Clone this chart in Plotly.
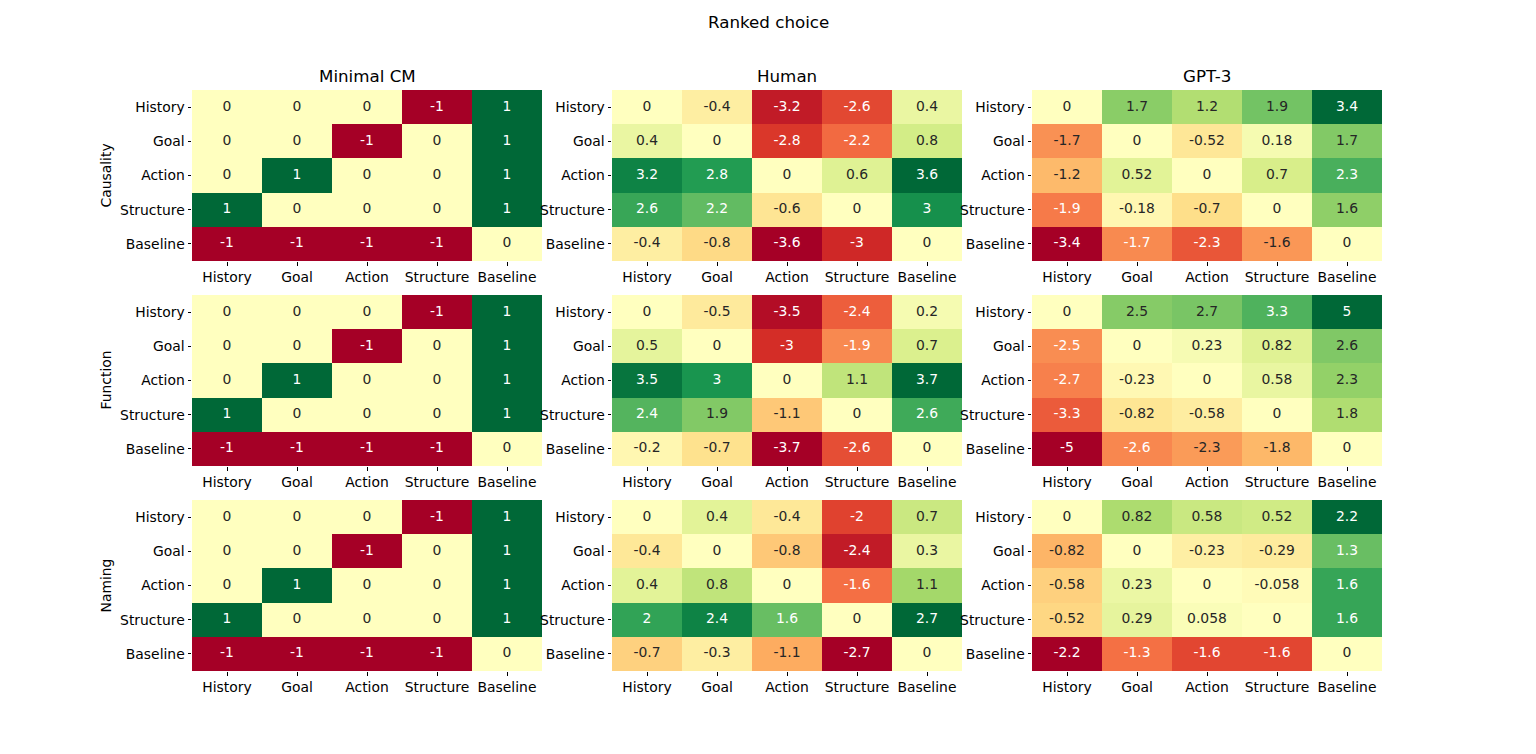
import numpy as np
import plotly.graph_objects as go

# ---------------- data ----------------
labels = ["History", "Goal", "Action", "Structure", "Baseline"]
tasks = ["Causality", "Function", "Naming"]
models = ["Minimal CM", "Human", "GPT-3"]

minimal_causality = [[0, 0, 0, -1, 1], [0, 0, -1, 0, 1], [0, 1, 0, 0, 1], [1, 0, 0, 0, 1], [-1, -1, -1, -1, 0]]
minimal_function = [[0, 0, 0, -1, 1], [0, 0, -1, 0, 1], [0, 1, 0, 0, 1], [1, 0, 0, 0, 1], [-1, -1, -1, -1, 0]]
minimal_naming = [[0, 0, 0, -1, 1], [0, 0, -1, 0, 1], [0, 1, 0, 0, 1], [1, 0, 0, 0, 1], [-1, -1, -1, -1, 0]]

human_causality = [[0, -0.4, -3.2, -2.6, 0.4], [0.4, 0, -2.8, -2.2, 0.8], [3.2, 2.8, 0, 0.6, 3.6],
                   [2.6, 2.2, -0.6, 0, 3], [-0.4, -0.8, -3.6, -3, 0]]
human_function = [[0, -0.5, -3.5, -2.4, 0.2], [0.5, 0, -3, -1.9, 0.7], [3.5, 3, 0, 1.1, 3.7],
                  [2.4, 1.9, -1.1, 0, 2.6], [-0.2, -0.7, -3.7, -2.6, 0]]
human_naming = [[0, 0.4, -0.4, -2, 0.7], [-0.4, 0, -0.8, -2.4, 0.3], [0.4, 0.8, 0, -1.6, 1.1],
                [2, 2.4, 1.6, 0, 2.7], [-0.7, -0.3, -1.1, -2.7, 0]]

gpt_causality = [[0, 1.66, 1.2, 1.9, 3.4], [-1.66, 0, -0.52, 0.18, 1.74], [-1.2, 0.52, 0, 0.7, 2.3],
                 [-1.9, -0.18, -0.7, 0, 1.6], [-3.4, -1.74, -2.3, -1.6, 0]]
gpt_function = [[0, 2.5, 2.7, 3.3, 5], [-2.5, 0, 0.23, 0.82, 2.6], [-2.7, -0.23, 0, 0.58, 2.3],
                [-3.3, -0.82, -0.58, 0, 1.8], [-5, -2.6, -2.3, -1.8, 0]]
gpt_naming = [[0, 0.82, 0.58, 0.52, 2.2], [-0.82, 0, -0.23, -0.29, 1.3], [-0.58, 0.23, 0, -0.058, 1.6],
              [-0.52, 0.29, 0.058, 0, 1.6], [-2.2, -1.3, -1.6, -1.6, 0]]

grid = [[minimal_causality, human_causality, gpt_causality],
        [minimal_function, human_function, gpt_function],
        [minimal_naming, human_naming, gpt_naming]]

# ---------------- colormap (RdYlGn) ----------------
rdylgn = [(165, 0, 38), (215, 48, 39), (244, 109, 67), (253, 174, 97), (254, 224, 139), (255, 255, 191),
          (217, 239, 139), (166, 217, 106), (102, 189, 99), (26, 152, 80), (0, 104, 55)]
anchors = np.linspace(0, 1, len(rdylgn))
cols = np.array(rdylgn, dtype=float) / 255.0
lut_x = np.arange(256) / 255.0
lut = np.stack([np.interp(lut_x, anchors, cols[:, k]) for k in range(3)], axis=1)
colorscale = [[float(a), "rgb(%d,%d,%d)" % c] for a, c in zip(anchors, rdylgn)]


def text_color(v, vmax):
    t = (v + vmax) / (2 * vmax)
    idx = int(np.clip(np.floor(t * 256), 0, 255))
    rgb = lut[idx]
    lin = np.where(rgb <= 0.03928, rgb / 12.92, ((rgb + 0.055) / 1.055) ** 2.4)
    lum = lin.dot([0.2126, 0.7152, 0.0722])
    return "#262626" if lum > 0.408 else "#ffffff"


# ---------------- layout geometry ----------------
W, H = 1536, 754
OFF = 8  # page body margin
x_px = [(192, 542), (612, 962), (1032, 1382)]
y_px = [(90, 261), (295, 466), (500, 671)]
FONT = "DejaVu Sans"
fs = 13.9

fig = go.Figure()
layout = dict(width=W, height=H, margin=dict(l=0, r=0, t=0, b=0), plot_bgcolor="white",
              paper_bgcolor="white", showlegend=False, font=dict(family=FONT, size=fs, color="black"))
annotations = []

k = 0
for r in range(3):
    for c in range(3):
        k += 1
        z = np.array(grid[r][c], dtype=float)
        vmax = float(np.abs(z).max())
        xa = "x" if k == 1 else "x%d" % k
        ya = "y" if k == 1 else "y%d" % k
        fig.add_trace(go.Heatmap(z=z, x=labels, y=labels, colorscale=colorscale, zmin=-vmax, zmax=vmax,
                                 showscale=False, xaxis=xa, yaxis=ya, hoverinfo="skip"))
        tx, ty, tt, tc = [], [], [], []
        for i in range(5):
            for j in range(5):
                tx.append(labels[j])
                ty.append(labels[i])
                tt.append(format(z[i, j], ".2g"))
                tc.append(text_color(z[i, j], vmax))
        fig.add_trace(go.Scatter(x=tx, y=ty, text=tt, mode="text", xaxis=xa, yaxis=ya,
                                 textfont=dict(family=FONT, size=fs, color=tc), hoverinfo="skip"))
        x0, x1 = x_px[c][0] - OFF, x_px[c][1] - OFF
        y0, y1 = y_px[r][0] - OFF, y_px[r][1] - OFF
        axkey = "xaxis" if k == 1 else "xaxis%d" % k
        aykey = "yaxis" if k == 1 else "yaxis%d" % k
        layout[axkey] = dict(domain=[x0 / W, x1 / W], anchor=ya, type="category", categoryorder="array",
                             categoryarray=labels, range=[-0.5, 4.5], showgrid=False, zeroline=False,
                             showline=False, ticks="outside", ticklen=3.5, tickwidth=0.8, tickcolor="black",
                             tickfont=dict(family=FONT, size=fs, color="black"), fixedrange=True)
        layout[aykey] = dict(domain=[1 - y1 / H, 1 - y0 / H], anchor=xa, type="category",
                             categoryorder="array", categoryarray=labels, range=[4.5, -0.5],
                             showgrid=False, zeroline=False, showline=False, ticks="outside", ticklen=3.5,
                             tickwidth=0.8, tickcolor="black",
                             tickfont=dict(family=FONT, size=fs, color="black"), fixedrange=True)
        if r == 0:
            annotations.append(dict(text=models[c], x=(x0 + x1) / 2 / W, y=1 - y0 / H, xref="paper",
                                    yref="paper", xanchor="center", yanchor="bottom", yshift=2, showarrow=False,
                                    font=dict(family=FONT, size=16.7, color="black")))
        if c == 0:
            annotations.append(dict(text=tasks[r], x=(105 - OFF) / W, y=1 - (y0 + y1) / 2 / H, xref="paper",
                                    yref="paper", xanchor="center", yanchor="middle", textangle=-90,
                                    showarrow=False, font=dict(family=FONT, size=fs, color="black")))

annotations.append(dict(text="Ranked choice", x=(768 - OFF) / W, y=1 - 2 / H, xref="paper", yref="paper",
                        xanchor="center", yanchor="top", showarrow=False,
                        font=dict(family=FONT, size=16.7, color="black")))
layout["annotations"] = annotations
fig.update_layout(**layout)
fig.write_html("out.html")
